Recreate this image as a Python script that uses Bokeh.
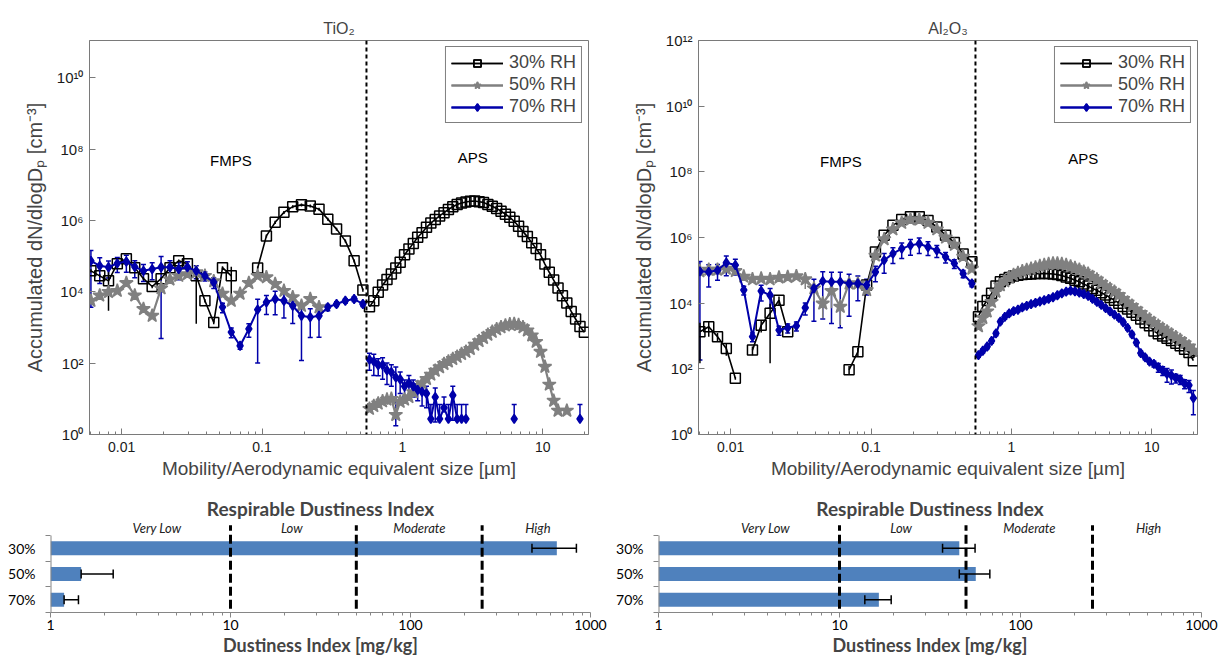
import numpy as np
from bokeh.plotting import figure
from bokeh.layouts import column, row
from bokeh.models import (Range1d, FixedTicker, CustomJSTickFormatter,
                          Span, Whisker, TeeHead, ColumnDataSource)
from bokeh.core.properties import value
from bokeh.embed import file_html
from bokeh.resources import INLINE

nan = float("nan")

# ---------------- size channels (µm) ----------------
fmps_diam = [0.00604, 0.00698, 0.00806, 0.00931, 0.0108, 0.0124, 0.0143, 0.0165,
             0.0191, 0.0221, 0.0255, 0.0294, 0.0340, 0.0392, 0.0453, 0.0523,
             0.0604, 0.0698, 0.0806, 0.0931, 0.1075, 0.1241, 0.1433, 0.1655,
             0.1911, 0.2207, 0.2548, 0.2943, 0.3398, 0.3924, 0.4532, 0.5233]
aps_diam = [0.583, 0.626, 0.673, 0.723, 0.777, 0.835, 0.898, 0.965, 1.037, 1.114,
            1.197, 1.286, 1.382, 1.486, 1.596, 1.715, 1.843, 1.981, 2.129, 2.288,
            2.458, 2.642, 2.839, 3.051, 3.278, 3.523, 3.786, 4.068, 4.371, 4.698,
            5.048, 5.425, 5.829, 6.264, 6.732, 7.234, 7.774, 8.354, 8.977, 9.647,
            10.37, 11.14, 11.97, 12.86, 13.82, 14.86, 15.96, 17.15, 18.43, 19.81]

# ---------------- TiO2: log10(dN/dlogDp) ----------------
tio2_rh30_fmps = [4.59, 4.45, 4.31, 4.79, 4.93, 4.68, 4.37, 4.15, 4.37, 4.68, 4.87, 4.79,
                  4.45, 3.75, 3.14, 4.68, 4.45, nan, nan, 4.67, 5.57, 5.95, 6.23, 6.39,
                  6.44, 6.41, 6.32, 6.04, 5.76, 5.43, 4.87, 4.05]
tio2_rh30_fmps_rel = [0.1, 0.1, 0.855, 0.1, 0.1, 0.1, 0.1, 0.1, 0.1, 0.1, 0.1, 0.1,
                      0.955, 0.1, 0.1, 0.1, 0.8, 0, 0, 0.1, 0.1, 0.1, 0.1, 0.1,
                      0.1, 0.1, 0.1, 0.1, 0.1, 0.1, 0.1, 0.1]
tio2_rh30_aps = [3.58, 3.75, 3.99, 4.19, 4.35, 4.50, 4.67, 4.83, 5.04, 5.20,
                 5.36, 5.53, 5.66, 5.81, 5.93, 6.03, 6.13, 6.22, 6.31, 6.39,
                 6.45, 6.49, 6.52, 6.54, 6.55, 6.53, 6.51, 6.45, 6.40, 6.34,
                 6.26, 6.18, 6.09, 5.98, 5.84, 5.69, 5.55, 5.38, 5.22, 5.04,
                 4.78, 4.55, 4.33, 4.11, 3.89, 3.69, 3.45, 3.24, 3.03, 2.87]
tio2_rh50_fmps = [3.75, 3.90, 4.00, 4.03, 4.25, 3.90, 3.52, 3.33, 4.10, 4.35, 4.45, 4.50,
                  4.55, 4.45, 4.30, 3.95, 3.75, 3.95, 4.25, 4.45, 4.41, 4.22, 4.03, 3.85,
                  3.61, 3.80, 3.57, nan, nan, nan, nan, nan]
tio2_rh50_aps = [0.72, 0.80, 0.87, 0.93, 0.98, 1.00, 0.55, 0.92, 0.98, 1.05,
                 1.19, 1.33, 1.44, 1.56, 1.68, 1.79, 1.89, 1.98, 2.05, 2.12,
                 2.18, 2.26, 2.32, 2.40, 2.52, 2.62, 2.71, 2.80, 2.88, 2.95,
                 3.01, 3.06, 3.09, 3.10, 3.07, 3.01, 2.92, 2.78, 2.60, 2.32,
                 1.90, 1.40, 0.95, 0.67, nan, 0.67, nan, nan, nan, nan]
tio2_rh70_fmps = [4.87, 4.73, 4.69, 4.80, 4.85, 4.70, 4.59, 4.64, 4.69, 4.69, 4.64, 4.69,
                  4.59, 4.45, 4.27, 3.57, 2.87, 2.49, 2.96, 3.50, 3.71, 3.80, 3.75, 3.61,
                  3.33, 3.29, 3.33, 3.57, 3.66, 3.75, 3.80, 3.66]
tio2_rh70_fmps_rel = [0.95, 0.68, 0.5, 0.45, 0.5, 0.5, 0.5, 0.5, 0.99, 0.53, 0.5, 0.42,
                      0.4, 0.28, 0.33, 0.3, 0.3, 0.2, 0.41, 0.968, 0.55, 0.64, 0.67, 0.68,
                      0.944, 0.73, 0.75, 0.2, 0.15, 0.15, 0.15, 0.15]
tio2_rh70_aps = [2.10, 2.05, 1.95, 1.95, 1.80, 1.75, 1.60, 1.55, 1.35, 1.45,
                 1.35, 1.25, 1.20, 1.15, 0.44, 1.05, 0.44, 0.75, 0.44, 1.10,
                 0.44, 0.44, 0.44, nan, nan, nan, nan, nan, nan, nan,
                 nan, nan, nan, 0.44, nan, nan, nan, nan, nan, nan,
                 nan, nan, nan, nan, nan, nan, nan, nan, 0.44, nan]
tio2_rh70_aps_rel = [0.5, 0.6, 0.5, 0.6, 0.6, 0.6, 0.956, 0.6, 0.5, 0.6,
                     0.5, 0.5, 0.6, 0.6, 1.5, 0.8, 1.5, 1.0, 1.5, 0.8,
                     1.5, 1.5, 1.5, 0, 0, 0, 0, 0, 0, 0,
                     0, 0, 0, 1.5, 0, 0, 0, 0, 0, 0,
                     0, 0, 0, 0, 0, 0, 0, 0, 1.5, 0]

# ---------------- Al2O3: log10(dN/dlogDp) ----------------
al2o3_rh30_fmps = [3.13, 3.28, 2.98, 2.62, 1.71, nan, 2.57, 3.33, 3.69, 4.09, 3.13, nan,
                   nan, nan, nan, nan, nan, 1.97, 2.52, 4.55, 5.56, 6.07, 6.37, 6.55,
                   6.63, 6.63, 6.52, 6.32, 6.07, 5.85, 5.50, 5.26]
al2o3_rh30_fmps_rel = [0.89, 0.5, 0.3, 0.4, 0.1, 0, 0.3, 0.4, 0.97, 0.3, 0.1, 0,
                       0, 0, 0, 0, 0, 0.3, 0.3, 0.1, 0.05, 0.05, 0.05, 0.05,
                       0.05, 0.05, 0.05, 0.05, 0.05, 0.05, 0.05, 0.05]
al2o3_rh30_aps = [3.59, 3.90, 4.08, 4.30, 4.52, 4.65, 4.72, 4.78, 4.83, 4.85,
                  4.87, 4.88, 4.89, 4.90, 4.90, 4.90, 4.90, 4.89, 4.87, 4.84,
                  4.80, 4.76, 4.70, 4.65, 4.58, 4.52, 4.45, 4.39, 4.32, 4.25,
                  4.17, 4.09, 4.00, 3.90, 3.82, 3.72, 3.63, 3.52, 3.40, 3.31,
                  3.15, 3.07, 3.00, 2.93, 2.86, 2.78, 2.70, 2.60, 2.50, 2.25]
al2o3_rh50_fmps = [4.97, 5.02, 5.02, 5.05, 4.98, 4.81, 4.73, 4.75, 4.73, 4.78, 4.80, 4.82,
                   4.73, 4.45, 3.99, 4.37, 3.89, 4.60, 4.60, 4.40, 5.45, 5.95, 6.25, 6.45,
                   6.55, 6.55, 6.45, 6.25, 6.00, 5.78, 5.42, 5.05]
al2o3_rh50_fmps_rel = [0.2, 0.2, 0.2, 0.2, 0.2, 0.2, 0.2, 0.2, 0.2, 0.2, 0.2, 0.2,
                       0.5, 0.6, 0.65, 0.7, 0.72, 0.1, 0.1, 0.1, 0.1, 0.1, 0.1, 0.1,
                       0.1, 0.1, 0.1, 0.1, 0.1, 0.1, 0.1, 0.1]
al2o3_rh50_aps = [3.30, 3.55, 3.75, 4.04, 4.35, 4.55, 4.67, 4.78, 4.86, 4.92,
                  4.97, 5.01, 5.05, 5.09, 5.13, 5.16, 5.19, 5.21, 5.21, 5.19,
                  5.16, 5.12, 5.07, 5.02, 4.96, 4.90, 4.80, 4.72, 4.62, 4.52,
                  4.43, 4.35, 4.25, 4.13, 4.02, 3.92, 3.81, 3.70, 3.59, 3.50,
                  3.40, 3.31, 3.22, 3.14, 3.05, 2.96, 2.88, 2.78, 2.68, 2.55]
al2o3_rh70_fmps = [4.97, 4.95, 5.00, 5.23, 5.16, 4.40, 2.98, 4.37, 4.24, 3.18, 3.25, 3.31,
                   3.86, 4.45, 4.67, 4.65, 4.65, 4.60, 4.60, 4.55, 4.95, 5.31, 5.51, 5.66,
                   5.76, 5.81, 5.71, 5.61, 5.41, 5.21, 4.90, 4.60]
al2o3_rh70_fmps_rel = [0.998, 0.65, 0.5, 0.6, 0.5, 0.3, 0.3, 0.5, 0.6, 0.3, 0.3, 0.3,
                       0.4, 0.9, 0.93, 0.946, 0.96, 0.9, 0.7, 0.5, 0.5, 0.6, 0.5, 0.5,
                       0.5, 0.5, 0.45, 0.4, 0.35, 0.3, 0.25, 0.2]
al2o3_rh70_aps = [2.42, 2.55, 2.68, 2.85, 3.08, 3.44, 3.58, 3.69, 3.76, 3.80,
                  3.87, 3.92, 3.97, 4.01, 4.05, 4.09, 4.13, 4.18, 4.24, 4.30,
                  4.35, 4.38, 4.36, 4.32, 4.28, 4.22, 4.13, 4.04, 3.95, 3.85,
                  3.75, 3.65, 3.55, 3.42, 3.25, 3.05, 2.80, 2.48, 2.35, 2.22,
                  2.15, 2.05, 1.95, 1.85, 1.80, 1.72, 1.68, 1.55, 1.50, 1.11]
al2o3_rh70_aps_rel = [0.15, 0.15, 0.15, 0.15, 0.15, 0.15, 0.15, 0.15, 0.15, 0.15,
                      0.15, 0.15, 0.15, 0.15, 0.15, 0.15, 0.15, 0.15, 0.15, 0.15,
                      0.15, 0.15, 0.15, 0.15, 0.15, 0.15, 0.15, 0.15, 0.15, 0.15,
                      0.15, 0.15, 0.15, 0.15, 0.15, 0.15, 0.15, 0.15, 0.15, 0.15,
                      0.2, 0.3, 0.3, 0.45, 0.45, 0.3, 0.3, 0.3, 0.4, 0.69]

# ---------------- dustiness index (mg/kg) ----------------
rh_categories = ["30%", "50%", "70%"]
tio2_rdi = [650, 1.48, 1.19]
tio2_rdi_lo = [473, 1.48, 1.19]
tio2_rdi_hi = [835, 2.23, 1.43]
al2o3_rdi = [45.9, 56.6, 16.5]
al2o3_rdi_lo = [37.1, 45.9, 13.8]
al2o3_rdi_hi = [56.1, 67.7, 19.3]
class_limits = [10, 50, 250]
class_names = ["Very Low", "Low", "Moderate", "High"]
class_name_x = [3.9, 21.9, 112, 510]

region_names = ["FMPS", "APS"]
tio2_region_x = [0.06, 3.17]
tio2_region_y = [10 ** 7.68, 10 ** 7.77]
al2o3_region_x = [0.061, 3.25]
al2o3_region_y = [10 ** 8.30, 10 ** 8.40]
instrument_boundary = 0.555

for a in [tio2_rh30_fmps, tio2_rh30_fmps_rel, tio2_rh50_fmps, tio2_rh70_fmps, tio2_rh70_fmps_rel,
          al2o3_rh30_fmps, al2o3_rh30_fmps_rel, al2o3_rh50_fmps, al2o3_rh50_fmps_rel,
          al2o3_rh70_fmps, al2o3_rh70_fmps_rel]:
    assert len(a) == len(fmps_diam), len(a)
for a in [tio2_rh30_aps, tio2_rh50_aps, tio2_rh70_aps, tio2_rh70_aps_rel, al2o3_rh30_aps,
          al2o3_rh50_aps, al2o3_rh70_aps, al2o3_rh70_aps_rel]:
    assert len(a) == len(aps_diam), len(a)

# ---------------- styling ----------------
FONT = "Liberation Sans"
BFONT = "Lato"
AX = "#7a7a7a"
styles = {
    "30% RH": dict(color="black", marker="square", size=10, fill=None, lw=1.6),
    "50% RH": dict(color="#808080", marker="star", size=14, fill="#808080", lw=2.2),
    "70% RH": dict(color="#0000AA", marker="diamond", size=9, fill="#0000AA", lw=2.0),
}

X_MIN, X_MAX = 0.0059, 21.2
x_major = [0.01, 0.1, 1, 10]
x_minor = [0.006, 0.007, 0.008, 0.009, 0.02, 0.03, 0.04, 0.05, 0.06, 0.07, 0.08, 0.09,
           0.2, 0.3, 0.4, 0.5, 0.6, 0.7, 0.8, 0.9, 2, 3, 4, 5, 6, 7, 8, 9, 20]

xfmt_js = "if (tick >= 1) { return tick.toFixed(0); } return tick.toString();"
yfmt_js = r"""
const e = Math.round(Math.log10(tick));
const sup = ["\u2070","\u00b9","\u00b2","\u00b3","\u2074","\u2075","\u2076","\u2077","\u2078","\u2079"];
let s = "";
for (const c of String(e)) { s += (c === "-") ? "\u207b" : sup[parseInt(c)]; }
return "10" + s;
"""


def style_axis(ax, size):
    ax.axis_line_color = AX
    ax.major_tick_line_color = AX
    ax.minor_tick_line_color = AX
    ax.major_tick_in = 6
    ax.major_tick_out = 0
    ax.minor_tick_in = 3
    ax.minor_tick_out = 0
    ax.major_label_text_font = FONT
    ax.major_label_text_color = "#1a1a1a"
    ax.major_label_text_font_size = size


def add_errbars(p, xs, ylog, rel, color, caps):
    x = np.array(xs, dtype=float)
    y = 10.0 ** np.array(ylog, dtype=float)
    r = np.array(rel, dtype=float)
    m = np.isfinite(y) & (r > 0)
    hi = y * (1 + r)
    lo = np.where(r < 1, y * (1 - np.minimum(r, 0.999)), y)
    src = ColumnDataSource(dict(x=x[m], lo=lo[m], hi=hi[m]))
    if caps:
        p.add_layout(Whisker(source=src, base="x", lower="lo", upper="hi", dimension="height",
                             line_color=color, line_width=1.5,
                             upper_head=TeeHead(size=5, line_color=color, line_width=1.5),
                             lower_head=TeeHead(size=5, line_color=color, line_width=1.5)))
    else:
        p.segment(x0="x", y0="lo", x1="x", y1="hi", source=src, line_color=color, line_width=1.5)


def make_top(title, ymax, ymajor, series, region_x, region_y, width, mbl, mbr):
    p = figure(width=width, height=484, x_axis_type="log", y_axis_type="log",
               x_range=Range1d(X_MIN, X_MAX), y_range=Range1d(1, ymax),
               output_backend="svg", toolbar_location=None,
               min_border_left=mbl, min_border_right=mbr, min_border_top=40, min_border_bottom=50)
    p.background_fill_color = "white"
    p.border_fill_color = "white"
    p.outline_line_color = AX
    p.xgrid.visible = False
    p.ygrid.visible = False
    p.title.text = title
    p.title.align = "center"
    p.title.text_font = FONT
    p.title.text_font_size = "16px"
    p.title.text_font_style = "normal"
    p.title.standoff = 8

    p.xaxis.ticker = FixedTicker(ticks=x_major, minor_ticks=x_minor)
    p.xaxis.formatter = CustomJSTickFormatter(code=xfmt_js)
    p.yaxis.ticker = FixedTicker(ticks=ymajor, minor_ticks=[])
    p.yaxis.formatter = CustomJSTickFormatter(code=yfmt_js)
    style_axis(p.xaxis[0], "14px")
    style_axis(p.yaxis[0], "15px")
    p.xaxis.major_label_standoff = 7
    p.yaxis.major_label_standoff = 6
    p.xaxis.axis_label = "Mobility/Aerodynamic equivalent size [\u00b5m]"
    p.xaxis.axis_label_text_font = FONT
    p.xaxis.axis_label_text_font_size = "19px"
    p.xaxis.axis_label_text_font_style = "normal"
    p.xaxis.axis_label_standoff = 3
    p.yaxis.axis_label = "Accumulated dN/dlogD\u209a [cm\u207b\u00b3]"
    p.yaxis.axis_label_text_font = FONT
    p.yaxis.axis_label_text_font_size = "20px"
    p.yaxis.axis_label_text_font_style = "normal"
    p.yaxis.axis_label_standoff = 8

    for label, fmps_log, aps_log, fmps_rel, aps_rel in series:
        st = styles[label]
        caps = label == "70% RH"
        for xs, ylog, rel in ((fmps_diam, fmps_log, fmps_rel), (aps_diam, aps_log, aps_rel)):
            if rel is not None:
                add_errbars(p, xs, ylog, rel, st["color"], caps)
        for xs, ylog in ((fmps_diam, fmps_log), (aps_diam, aps_log)):
            y = 10.0 ** np.array(ylog, dtype=float)
            p.line(xs, y, line_color=st["color"], line_width=st["lw"], legend_label=label)
            p.scatter(xs, y, marker=st["marker"], size=st["size"], fill_color=st["fill"],
                      line_color=st["color"], line_width=1.5, legend_label=label)

    p.add_layout(Span(location=instrument_boundary, dimension="height", line_color="black",
                      line_width=2, line_dash="4 3"))
    p.text(x=region_x, y=region_y, text=region_names, text_font=value(FONT),
           text_font_size="15px", text_align="center", text_baseline="middle", text_color="black")

    lg = p.legend[0]
    lg.location = "top_right"
    lg.margin = 6
    lg.padding = 5
    lg.spacing = 1
    lg.label_height = 18
    lg.glyph_height = 18
    lg.glyph_width = 52
    lg.label_standoff = 6
    lg.label_text_font = FONT
    lg.label_text_font_size = "18px"
    lg.border_line_color = "black"
    lg.border_line_width = 1
    lg.background_fill_alpha = 1.0
    return p


def make_bar(vals, lo, hi, width, mbl, mbr):
    n = len(rh_categories)
    ypos = [n - 0.5 - i for i in range(n)]
    b = figure(width=width, height=175, x_axis_type="log",
               x_range=Range1d(1, 1000), y_range=Range1d(0, 3.584),
               output_backend="svg", toolbar_location=None,
               min_border_left=mbl, min_border_right=mbr, min_border_top=36, min_border_bottom=47)
    b.outline_line_color = None
    b.xgrid.visible = False
    b.ygrid.visible = False
    b.background_fill_color = "white"
    b.border_fill_color = "white"
    b.title.text = "Respirable Dustiness Index"
    b.title.align = "center"
    b.title.text_font = BFONT
    b.title.text_font_size = "19px"
    b.title.text_font_style = "bold"
    b.title.standoff = 1

    b.hbar(y=ypos, left=1, right=vals, height=0.545, fill_color="#4F81BD", line_color=None)
    src = ColumnDataSource(dict(y=ypos, lo=lo, hi=hi))
    b.add_layout(Whisker(source=src, base="y", lower="lo", upper="hi", dimension="width",
                         line_color="black", line_width=1.5, level="annotation",
                         upper_head=TeeHead(size=9, line_color="black", line_width=1.5),
                         lower_head=TeeHead(size=9, line_color="black", line_width=1.5)))
    nl = len(class_limits)
    b.segment(x0=class_limits, y0=[0.15] * nl, x1=class_limits, y1=[3.4] * nl,
              line_color="black", line_width=3, line_dash="9 4")
    b.text(x=class_name_x, y=[3.31] * len(class_names), text=class_names,
           text_font=value(BFONT), text_font_style="italic", text_font_size="13px",
           text_align="center", text_baseline="middle", text_color="#222222")
    b.segment(x0=[1], y0=[0], x1=[1], y1=[n], line_color="#868686", line_width=2)

    xa = b.xaxis[0]
    xa.ticker = FixedTicker(ticks=[1, 10, 100, 1000],
                            minor_ticks=[2, 3, 4, 5, 6, 7, 8, 9, 20, 30, 40, 50, 60, 70, 80, 90,
                                         200, 300, 400, 500, 600, 700, 800, 900])
    xa.formatter = CustomJSTickFormatter(code="return tick.toFixed(0);")
    xa.axis_line_color = "#868686"
    xa.major_tick_line_color = "#868686"
    xa.minor_tick_line_color = "#868686"
    xa.major_tick_out = 5
    xa.major_tick_in = 0
    xa.minor_tick_out = 3
    xa.minor_tick_in = 0
    xa.major_label_standoff = 2
    xa.major_label_text_font = BFONT
    xa.major_label_text_font_size = "14px"
    xa.major_label_text_color = "black"
    xa.axis_label = "Dustiness Index [mg/kg]"
    xa.axis_label_text_font = BFONT
    xa.axis_label_text_font_size = "18px"
    xa.axis_label_text_font_style = "bold"
    xa.axis_label_standoff = 1

    ya = b.yaxis[0]
    ya.ticker = FixedTicker(ticks=ypos, minor_ticks=list(range(n + 1)))
    ya.major_label_overrides = {yv: c for yv, c in zip(ypos, rh_categories)}
    ya.axis_line_color = None
    ya.major_tick_line_color = None
    ya.major_tick_in = 0
    ya.major_tick_out = 0
    ya.minor_tick_line_color = "#868686"
    ya.minor_tick_out = 5
    ya.minor_tick_in = 0
    ya.major_label_standoff = 10
    ya.major_label_text_font = BFONT
    ya.major_label_text_font_size = "14px"
    ya.major_label_text_color = "black"
    return b


tio2_series = [
    ("30% RH", tio2_rh30_fmps, tio2_rh30_aps, tio2_rh30_fmps_rel, None),
    ("50% RH", tio2_rh50_fmps, tio2_rh50_aps, None, None),
    ("70% RH", tio2_rh70_fmps, tio2_rh70_aps, tio2_rh70_fmps_rel, tio2_rh70_aps_rel),
]
al2o3_series = [
    ("30% RH", al2o3_rh30_fmps, al2o3_rh30_aps, al2o3_rh30_fmps_rel, None),
    ("50% RH", al2o3_rh50_fmps, al2o3_rh50_aps, al2o3_rh50_fmps_rel, None),
    ("70% RH", al2o3_rh70_fmps, al2o3_rh70_aps, al2o3_rh70_fmps_rel, al2o3_rh70_aps_rel),
]

p1 = make_top("TiO\u2082", 10 ** 11.05, [1, 1e2, 1e4, 1e6, 1e8, 1e10], tio2_series,
              tio2_region_x, tio2_region_y, 610, 89, 22)
p2 = make_top("Al\u2082O\u2083", 1e12, [1, 1e2, 1e4, 1e6, 1e8, 1e10, 1e12], al2o3_series,
              al2o3_region_x, al2o3_region_y, 608, 88, 21)
b1 = make_bar(tio2_rdi, tio2_rdi_lo, tio2_rdi_hi, 610, 50, 20)
b2 = make_bar(al2o3_rdi, al2o3_rdi_lo, al2o3_rdi_hi, 608, 48, 17)

layout = column(row(p1, p2), row(b1, b2))
open("out.html", "w").write(file_html(layout, INLINE, title="Dustiness"))
